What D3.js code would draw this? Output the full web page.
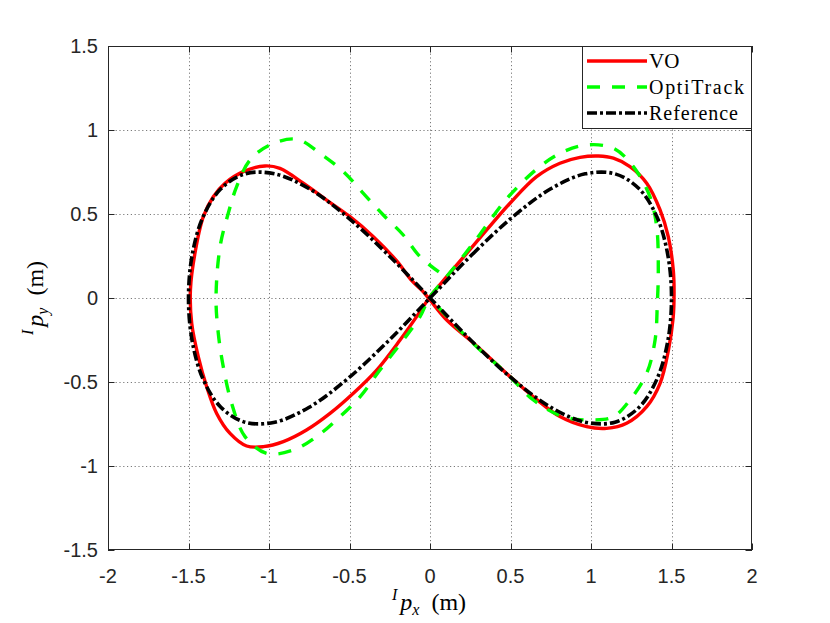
<!DOCTYPE html>
<html>
<head>
<meta charset="utf-8">
<script src="https://cdn.jsdelivr.net/npm/d3@7/dist/d3.min.js"></script>
<style>
html,body{margin:0;padding:0;background:#fff;}
svg{display:block;}
</style>
</head>
<body>
<svg id="chart" width="830" height="623"></svg>
<script>
// ---------- data ----------
const xTicks = [-2, -1.5, -1, -0.5, 0, 0.5, 1, 1.5, 2];
const yTicks = [-1.5, -1, -0.5, 0, 0.5, 1, 1.5];
const xTickLabels = ["-2", "-1.5", "-1", "-0.5", "0", "0.5", "1", "1.5", "2"];
const yTickLabels = ["-1.5", "-1", "-0.5", "0", "0.5", "1", "1.5"];
const seriesNames = ["VO", "OptiTrack", "Reference"];

// VO (closed loop)
const voX = [0.000, 0.104, 0.228, 0.352, 0.497, 0.662, 0.807, 0.932, 1.046, 1.139, 1.242, 1.346, 1.429, 1.480, 1.511, 1.516, 1.510,
  1.481, 1.429, 1.346, 1.221, 1.097, 0.973, 0.807, 0.642, 0.497, 0.352, 0.248, 0.104, 0.000,
  -0.050, -0.110, -0.208, -0.352, -0.497, -0.642, -0.787, -0.932, -1.025, -1.160, -1.273, -1.346, -1.408, -1.460, -1.488,
  -1.480, -1.439, -1.387, -1.325, -1.242, -1.139, -1.035, -0.911, -0.767, -0.621, -0.476, -0.331, -0.186, -0.083];
const voY = [0.008, 0.127, 0.266, 0.405, 0.564, 0.722, 0.802, 0.837, 0.845, 0.832, 0.782, 0.683, 0.524, 0.365, 0.167, 0.030, -0.120,
  -0.310, -0.508, -0.647, -0.746, -0.776, -0.766, -0.706, -0.588, -0.468, -0.339, -0.250, -0.131, -0.012,
  0.045, 0.100, 0.222, 0.365, 0.484, 0.583, 0.683, 0.772, 0.786, 0.752, 0.683, 0.603, 0.484, 0.266, 0.050,
  -0.151, -0.350, -0.528, -0.687, -0.806, -0.881, -0.885, -0.855, -0.786, -0.687, -0.567, -0.429, -0.250, -0.111];

// OptiTrack (open path)
const optiX = [0.055, -0.062, -0.166, -0.290, -0.414, -0.538, -0.683, -0.828, -0.994, -1.118, -1.201, -1.253, -1.304, -1.329,
  -1.315, -1.284, -1.232, -1.149, -1.014, -0.849, -0.704, -0.559, -0.435, -0.311, -0.166, -0.062, -0.005,
  0.093, 0.207, 0.311, 0.476, 0.660, 0.807, 0.973, 1.139, 1.263, 1.366, 1.408, 1.418, 1.412,
  1.398, 1.346, 1.242, 1.139, 1.015, 0.829, 0.642, 0.476, 0.311, 0.145, 0.000];
const optiY = [0.155, 0.246, 0.375, 0.494, 0.623, 0.752, 0.861, 0.945, 0.911, 0.821, 0.663, 0.504, 0.305, 0.000,
  -0.210, -0.409, -0.627, -0.825, -0.925, -0.905, -0.825, -0.706, -0.588, -0.429, -0.250, -0.111, 0.000,
  0.115, 0.250, 0.380, 0.590, 0.765, 0.861, 0.911, 0.891, 0.782, 0.603, 0.424, 0.167, -0.032,
  -0.250, -0.448, -0.607, -0.707, -0.726, -0.707, -0.607, -0.448, -0.310, -0.151, 0.000];

// Reference (closed loop)
const refX = [0.000, 0.260, 0.513, 0.750, 0.964, 1.149, 1.299, 1.410, 1.477, 1.500, 1.477, 1.410, 1.299, 1.149, 0.964, 0.750, 0.513, 0.260,
  0.000, -0.260, -0.513, -0.750, -0.964, -1.149, -1.299, -1.410, -1.477, -1.500, -1.477, -1.410, -1.299, -1.149, -0.964, -0.750, -0.513, -0.260];
const refY = [0.000, 0.257, 0.482, 0.650, 0.739, 0.739, 0.650, 0.482, 0.257, 0.000, -0.257, -0.482, -0.650, -0.739, -0.739, -0.650, -0.482, -0.257,
  0.000, 0.257, 0.482, 0.650, 0.739, 0.739, 0.650, 0.482, 0.257, 0.000, -0.257, -0.482, -0.650, -0.739, -0.739, -0.650, -0.482, -0.257];

// ---------- layout ----------
const L = 108, R = 752, T = 46, B = 550;
const svg = d3.select("#chart");
const x = d3.scaleLinear().domain([-2, 2]).range([L, R]);
const y = d3.scaleLinear().domain([-1.5, 1.5]).range([B, T]);
const axisColor = "#262626";
const tickFont = "'Liberation Sans', Arial, Helvetica, sans-serif";
const serif = "'Liberation Serif', 'Times New Roman', serif";

svg.append("rect").attr("width", 830).attr("height", 623).attr("fill", "#fff");
svg.append("rect").attr("x", L).attr("y", T).attr("width", R - L).attr("height", B - T).attr("fill", "#fff");

// grid
const grid = svg.append("g").attr("stroke", "#7a7a7a").attr("stroke-width", 1).attr("stroke-dasharray", "1.2,2.6");
grid.selectAll("line.vx").data(xTicks.slice(1, -1)).join("line")
  .attr("x1", d => Math.round(x(d)) + 0.5).attr("x2", d => Math.round(x(d)) + 0.5).attr("y1", T).attr("y2", B);
grid.selectAll("line.hy").data(yTicks.slice(1, -1)).join("line")
  .attr("y1", d => Math.round(y(d)) + 0.5).attr("y2", d => Math.round(y(d)) + 0.5).attr("x1", L).attr("x2", R);

// series
const mk = (xs, ys) => xs.map((v, i) => [v, ys[i]]);
const lineClosed = d3.line().x(d => x(d[0])).y(d => y(d[1])).curve(d3.curveCatmullRomClosed.alpha(0.5));
const lineOpen = d3.line().x(d => x(d[0])).y(d => y(d[1])).curve(d3.curveCatmullRom.alpha(0.5));

const styles = [
  {stroke: "#ff0000", dash: null, w: 3.4},
  {stroke: "#00ff00", dash: "13,12", w: 3.4},
  {stroke: "#000000", dash: "10,3,3,3", w: 3.6}
];

svg.append("path").attr("d", lineClosed(mk(voX, voY))).attr("fill", "none")
  .attr("stroke", styles[0].stroke).attr("stroke-width", styles[0].w).attr("stroke-linejoin", "round");
svg.append("path").attr("d", lineOpen(mk(optiX, optiY))).attr("fill", "none")
  .attr("stroke", styles[1].stroke).attr("stroke-width", styles[1].w).attr("stroke-dasharray", styles[1].dash);
svg.append("path").attr("d", lineClosed(mk(refX, refY))).attr("fill", "none")
  .attr("stroke", styles[2].stroke).attr("stroke-width", styles[2].w).attr("stroke-dasharray", styles[2].dash);

// box + ticks
const ax = svg.append("g").attr("stroke", axisColor).attr("stroke-width", 1).attr("fill", "none");
ax.append("rect").attr("x", L + 0.5).attr("y", T + 0.5).attr("width", R - L - 1).attr("height", B - T - 1);
const tl = 6.5;
xTicks.forEach(d => {
  const px = Math.round(x(d)) + 0.5;
  ax.append("line").attr("x1", px).attr("x2", px).attr("y1", B).attr("y2", B - tl);
  ax.append("line").attr("x1", px).attr("x2", px).attr("y1", T).attr("y2", T + tl);
});
yTicks.forEach(d => {
  const py = Math.round(y(d)) + 0.5;
  ax.append("line").attr("y1", py).attr("y2", py).attr("x1", L).attr("x2", L + tl);
  ax.append("line").attr("y1", py).attr("y2", py).attr("x1", R).attr("x2", R - tl);
});

// tick labels
svg.append("g").selectAll("text").data(xTicks).join("text")
  .attr("x", d => x(d)).attr("y", 583).attr("text-anchor", "middle")
  .attr("font-family", tickFont).attr("font-size", 20).attr("fill", axisColor)
  .text((d, i) => xTickLabels[i]);
svg.append("g").selectAll("text").data(yTicks).join("text")
  .attr("x", 98).attr("y", d => y(d) + 7).attr("text-anchor", "end")
  .attr("font-family", tickFont).attr("font-size", 20).attr("fill", axisColor)
  .text((d, i) => yTickLabels[i]);

// axis labels
function axisLabel(g, sub) {
  const t = g.append("text").attr("font-family", serif).attr("font-size", 24).attr("fill", "#000").attr("text-anchor", "middle");
  t.append("tspan").attr("font-style", "italic").attr("font-size", 16).attr("dy", -10).text("I");
  t.append("tspan").attr("font-style", "italic").attr("dy", 10).attr("dx", 3).text("p");
  t.append("tspan").attr("font-style", "italic").attr("font-size", 16).attr("dy", 5).text(sub);
  t.append("tspan").attr("dy", -5).text("\u00a0\u00a0(m)");
  return t;
}
axisLabel(svg.append("g").attr("transform", "translate(429,610)"), "x");
axisLabel(svg.append("g").attr("transform", "translate(43,298) rotate(-90)"), "y");

// legend
const lg = svg.append("g");
lg.append("rect").attr("x", 582.5).attr("y", T + 0.5).attr("width", R - 582.5 - 0.5).attr("height", 82)
  .attr("fill", "#fff").attr("stroke", axisColor).attr("stroke-width", 1);
const legY = [61, 87, 113];
const legW = [null, 95, 89];
seriesNames.forEach((name, i) => {
  const ln = lg.append("line").attr("x1", 587).attr("x2", 647).attr("y1", legY[i]).attr("y2", legY[i])
    .attr("stroke", styles[i].stroke).attr("stroke-width", styles[i].w);
  if (styles[i].dash) ln.attr("stroke-dasharray", styles[i].dash);
  const t = lg.append("text").attr("x", 649).attr("y", legY[i] + 6.5).attr("font-family", serif)
    .attr("font-size", i === 0 ? 21 : 20).attr("fill", "#000").text(name);
  if (legW[i]) t.attr("textLength", legW[i]).attr("lengthAdjust", "spacing");
});
</script>
</body>
</html>
